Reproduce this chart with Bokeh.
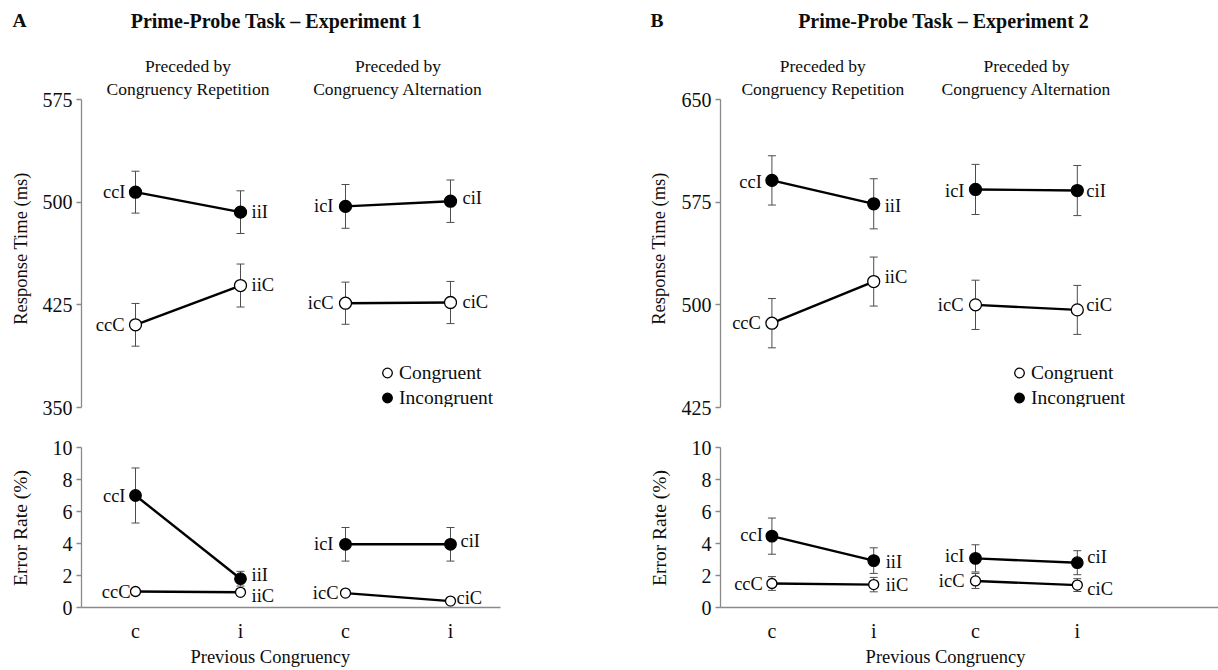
import math
from bokeh.plotting import figure
from bokeh.models import (Range1d, FixedTicker, Legend, LegendItem,
                          Whisker, TeeHead, ColumnDataSource)
from bokeh.layouts import row, column
from bokeh.embed import file_html
from bokeh.resources import INLINE
from bokeh.core.properties import value

# ---------------- data ----------------
positions = [1, 2, 3, 4]
tick_labels = ["c", "i", "c", "i"]
con_labels = ["ccC", "iiC", "icC", "ciC"]
inc_labels = ["ccI", "iiI", "icI", "ciI"]
series_names = ["Congruent", "Incongruent"]

exp1_rt_con = [410.4, 439.1, 426.2, 426.7]
exp1_rt_con_se = [15.6, 15.7, 15.4, 15.4]
exp1_rt_inc = [507.3, 492.7, 496.9, 500.7]
exp1_rt_inc_se = [15.3, 15.6, 16.0, 15.5]
exp1_er_con = [1.0, 0.95, 0.9, 0.4]
exp1_er_con_se = [0.2, 0.2, 0.15, 0.15]
exp1_er_inc = [7.0, 1.8, 3.95, 3.95]
exp1_er_inc_se = [1.72, 0.46, 1.05, 1.05]

exp2_rt_con = [486.6, 517.0, 500.0, 496.3]
exp2_rt_con_se = [18.0, 17.9, 18.0, 17.9]
exp2_rt_inc = [590.9, 573.8, 584.3, 583.5]
exp2_rt_inc_se = [18.0, 18.3, 18.3, 18.3]
exp2_er_con = [1.5, 1.43, 1.66, 1.4]
exp2_er_con_se = [0.43, 0.45, 0.47, 0.4]
exp2_er_inc = [4.46, 2.93, 3.07, 2.8]
exp2_er_inc_se = [1.13, 0.8, 0.85, 0.75]

rt1_ticks = [350, 425, 500, 575]
rt2_ticks = [425, 500, 575, 650]
er_ticks = [0, 2, 4, 6, 8, 10]

titles = ["Prime-Probe Task \u2013 Experiment 1", "Prime-Probe Task \u2013 Experiment 2"]
panel_letters = ["A", "B"]
sub_left = ["Preceded by", "Congruency Repetition"]
sub_right = ["Preceded by", "Congruency Alternation"]
rt_label = "Response Time (ms)"
er_label = "Error Rate (%)"
x_label = "Previous Congruency"

# ---------------- style ----------------
SERIF = "Liberation Serif"
TEXT = "#0d0d0d"
AXIS = "#8a8a8a"
WHISK = "#4d4d4d"
PAGE_H = 670
RT_TOP, RT_BOT = 99, 407      # pixel rows of the RT axis ends
ER_TOP, ER_BOT = 447, 608     # pixel rows of the error-rate axis ends
HDR_H, RT_H, ER_H, FTR_H = 40, 380, 224, 26


def yd(py, ft, fb, yr):
    return yr[0] + (fb - py) / (fb - ft) * (yr[1] - yr[0])


def plain_fig(w, h, xr, yr):
    p = figure(width=w, height=h, x_range=Range1d(*xr), y_range=Range1d(*yr),
               output_backend="svg", toolbar_location=None, title=None,
               x_axis_location=None, y_axis_location=None, min_border=0)
    p.grid.visible = False
    p.outline_line_color = None
    p.background_fill_color = "white"
    p.border_fill_color = "white"
    return p


def put_text(p, xs, ys, texts, size, bold=False, align="center", angle=0.0):
    p.text(x=xs, y=ys, text=texts, angle=angle, text_align=align, text_baseline="middle",
           text_font=value(SERIF), text_font_size=size,
           text_font_style="bold" if bold else "normal", text_color=TEXT)


def style_yaxis(ax, ticks, bounds):
    ax.ticker = FixedTicker(ticks=ticks)
    ax.bounds = bounds
    ax.axis_line_color = AXIS
    ax.axis_line_width = 1.3
    ax.major_tick_line_color = AXIS
    ax.major_tick_line_width = 1.3
    ax.major_tick_out = 5
    ax.major_tick_in = 0
    ax.minor_tick_out = 0
    ax.minor_tick_in = 0
    ax.major_label_standoff = 4
    ax.major_label_text_font = SERIF
    ax.major_label_text_font_size = "20px"
    ax.major_label_text_color = TEXT


def data_fig(w, h, left, right, top, bottom, xr, yr, with_x):
    p = figure(width=w, height=h, x_range=Range1d(*xr), y_range=Range1d(*yr),
               output_backend="svg", toolbar_location=None, title=None,
               min_border_left=left, min_border_right=right,
               min_border_top=top, min_border_bottom=bottom,
               x_axis_location="below" if with_x else None)
    p.grid.visible = False
    p.outline_line_color = None
    p.background_fill_color = "white"
    p.border_fill_color = "white"
    if with_x:
        xa = p.xaxis[0]
        xa.ticker = FixedTicker(ticks=positions)
        xa.major_label_overrides = {pos: lab for pos, lab in zip(positions, tick_labels)}
        xa.axis_line_color = AXIS
        xa.axis_line_width = 1.3
        xa.major_tick_out = 0
        xa.major_tick_in = 0
        xa.minor_tick_out = 0
        xa.minor_tick_in = 0
        xa.major_label_standoff = 12
        xa.major_label_text_font = SERIF
        xa.major_label_text_font_size = "20px"
        xa.major_label_text_color = TEXT
    return p


def draw_series(p, vals, ses, labels, filled, size, xo, yo):
    src = ColumnDataSource(dict(x=positions,
                                lower=[v - s for v, s in zip(vals, ses)],
                                upper=[v + s for v, s in zip(vals, ses)]))
    w = Whisker(source=src, base="x", lower="lower", upper="upper",
                line_color=WHISK, line_width=1, level="underlay",
                upper_head=TeeHead(size=8, line_color=WHISK, line_width=1),
                lower_head=TeeHead(size=8, line_color=WHISK, line_width=1))
    p.add_layout(w)
    p.multi_line(xs=[positions[0:2], positions[2:4]], ys=[vals[0:2], vals[2:4]],
                 line_color="black", line_width=2.4)
    r = p.scatter(positions, vals, size=size, marker="circle",
                  fill_color="black" if filled else "white",
                  line_color="black", line_width=1.3)
    for idx, align in (([0, 2], "right"), ([1, 3], "left")):
        s2 = ColumnDataSource(dict(x=[positions[i] for i in idx],
                                   y=[vals[i] for i in idx],
                                   text=[labels[i] for i in idx],
                                   xo=[xo[i] for i in idx],
                                   yo=[yo[i] for i in idx]))
        p.text(x="x", y="y", text="text", x_offset="xo", y_offset="yo", source=s2,
               text_align=align, text_baseline="middle",
               text_font=value(SERIF), text_font_size="18.5px", text_color=TEXT)
    return r


def build_panel(cfg):
    sx0, sx1 = cfg["strip"]          # strip pixel columns
    cx0, cx1 = cfg["col"]            # column pixel columns
    fl, fr = cfg["fl"], cfg["fr"]
    xr = cfg["xr"]
    cw = cx1 - cx0

    # left strip: panel letter and rotated y labels
    strip = plain_fig(sx1 - sx0, PAGE_H, (sx0, sx1), (PAGE_H, 0))
    put_text(strip, [cfg["letter_x"]], [20], [cfg["letter"]], "19.5px", bold=True, align="left")
    put_text(strip, [cfg["rt_label_x"]], [(RT_TOP + RT_BOT) / 2 - 5], [rt_label], "18.5px",
             angle=math.pi / 2)
    put_text(strip, [cfg["er_label_x"]], [(ER_TOP + ER_BOT) / 2], [er_label], "19.5px",
             angle=math.pi / 2)

    # header with the panel title
    hdr = plain_fig(cw, HDR_H, (cx0, cx1), (HDR_H, 0))
    put_text(hdr, [cfg["title_x"]], [20], [cfg["title"]], "20px", bold=True)

    # response-time plot (frame reaches the header, axis bounded to its ticks)
    rt_range = cfg["rt_range"]
    rt_yr = (rt_range[0], yd(HDR_H, RT_TOP, RT_BOT, rt_range))
    rt = data_fig(cw, RT_H, fl - cx0, cx1 - fr, 0, HDR_H + RT_H - RT_BOT, xr, rt_yr, False)
    style_yaxis(rt.yaxis[0], cfg["rt_ticks"], rt_range)
    r_con = draw_series(rt, cfg["rt_con"], cfg["rt_con_se"], con_labels, False, 12,
                        cfg["rt_con_xo"], cfg["rt_con_yo"])
    r_inc = draw_series(rt, cfg["rt_inc"], cfg["rt_inc_se"], inc_labels, True, 12,
                        cfg["rt_inc_xo"], cfg["rt_inc_yo"])
    sub_x = [sum(positions[0:2]) / 2, sum(positions[2:4]) / 2]
    for cxv, lines in zip(sub_x, (sub_left, sub_right)):
        put_text(rt, [cxv, cxv], [yd(65, RT_TOP, RT_BOT, rt_range), yd(88, RT_TOP, RT_BOT, rt_range)],
                 lines, "17.5px")
    legend = Legend(items=[LegendItem(label=series_names[0], renderers=[r_con]),
                           LegendItem(label=series_names[1], renderers=[r_inc])],
                    location=(cfg["legend_x"] - fl, -3),
                    glyph_width=24, glyph_height=25, label_height=25, label_standoff=-5,
                    spacing=0, padding=0, margin=0,
                    label_text_font=SERIF, label_text_font_size="19.5px",
                    label_text_color=TEXT,
                    border_line_color=None, background_fill_alpha=0)
    rt.add_layout(legend)

    # error-rate plot
    er_top_px = HDR_H + RT_H
    er = data_fig(cw, ER_H, fl - cx0, cx1 - fr, ER_TOP - er_top_px,
                  er_top_px + ER_H - ER_BOT, xr, (0, 10), True)
    style_yaxis(er.yaxis[0], er_ticks, (0, 10))
    draw_series(er, cfg["er_con"], cfg["er_con_se"], con_labels, False, 10,
                cfg["er_con_xo"], cfg["er_con_yo"])
    draw_series(er, cfg["er_inc"], cfg["er_inc_se"], inc_labels, True, 11.5,
                cfg["er_inc_xo"], cfg["er_inc_yo"])

    # footer with x-axis title
    ftr_top = er_top_px + ER_H
    ftr = plain_fig(cw, FTR_H, (cx0, cx1), (PAGE_H, ftr_top))
    put_text(ftr, [cfg["xlabel_x"]], [656], [x_label], "18.5px")

    return row(strip, column(hdr, rt, er, ftr))


cfg_a = dict(strip=(0, 32), col=(32, 600), fl=81, fr=500, xr=(0.4857, 4.4762),
             rt_range=(350, 575), rt_ticks=rt1_ticks,
             rt_con=exp1_rt_con, rt_con_se=exp1_rt_con_se,
             rt_inc=exp1_rt_inc, rt_inc_se=exp1_rt_inc_se,
             er_con=exp1_er_con, er_con_se=exp1_er_con_se,
             er_inc=exp1_er_inc, er_inc_se=exp1_er_inc_se,
             rt_con_xo=[-11, 11, -12, 12], rt_con_yo=[0, -1, 0, -1],
             rt_inc_xo=[-10, 11, -12, 12], rt_inc_yo=[0, 0, 0, -3],
             er_con_xo=[-5, 11, -7, 6], er_con_yo=[0, 4, 0, -3],
             er_inc_xo=[-10, 11, -12, 10], er_inc_yo=[0, -4, 0, -3],
             letter=panel_letters[0], letter_x=12, rt_label_x=20.5, er_label_x=19.5,
             title=titles[0], title_x=296, legend_x=375, xlabel_x=288)

cfg_b = dict(strip=(600, 678), col=(678, 1218), fl=719, fr=1218, xr=(0.495, 5.387),
             rt_range=(425, 650), rt_ticks=rt2_ticks,
             rt_con=exp2_rt_con, rt_con_se=exp2_rt_con_se,
             rt_inc=exp2_rt_inc, rt_inc_se=exp2_rt_inc_se,
             er_con=exp2_er_con, er_con_se=exp2_er_con_se,
             er_inc=exp2_er_inc, er_inc_se=exp2_er_inc_se,
             rt_con_xo=[-11, 11, -12, 9], rt_con_yo=[0, -5, 0, -5],
             rt_inc_xo=[-10, 11, -11, 9], rt_inc_yo=[2, 2, 2, 0],
             er_con_xo=[-9, 12, -11, 10], er_con_yo=[0, 0, 0, 4],
             er_inc_xo=[-9, 12, -11, 10], er_inc_yo=[-1, 1, -2, -6],
             letter=panel_letters[1], letter_x=650, rt_label_x=658, er_label_x=659,
             title=titles[1], title_x=920, legend_x=1006, xlabel_x=922)

layout = row(build_panel(cfg_a), build_panel(cfg_b))
open("out.html", "w").write(file_html(layout, INLINE))
